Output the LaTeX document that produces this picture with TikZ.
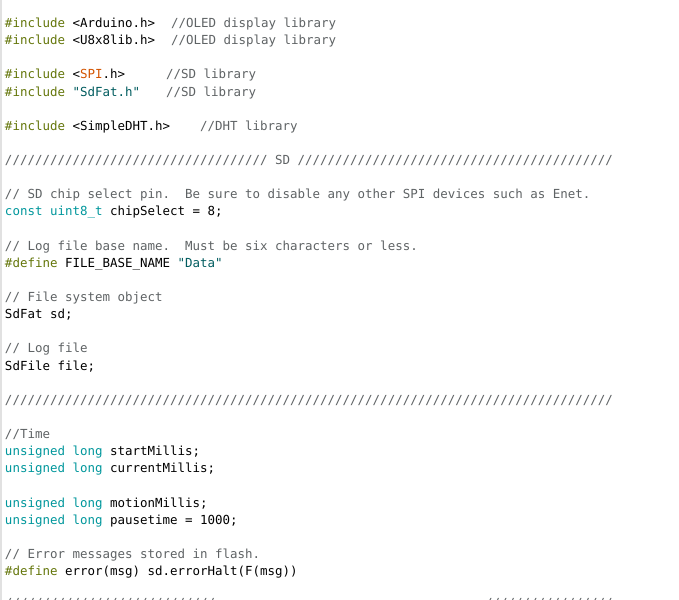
\documentclass[tikz,border=0pt]{standalone}
\usepackage{fontspec}
\setmonofont{DejaVu Sans Mono}
\frenchspacing

\definecolor{prepgreen}{RGB}{100,118,10}
\definecolor{typeteal}{RGB}{0,151,156}
\definecolor{strteal}{RGB}{0,92,95}
\definecolor{libred}{RGB}{211,84,0}
\definecolor{cmtgray}{RGB}{95,99,101}
\definecolor{edgegray}{RGB}{225,225,225}

\newcommand\slashrow[1]{\foreach \s in {1,...,#1}{/}}

\begin{document}
\begin{tikzpicture}[x=0.75pt, y=-0.75pt,
  code/.style={anchor=base west, inner sep=0pt, outer sep=0pt,
    font=\ttfamily\fontsize{9.35}{11}\selectfont, text=black},
  cmt/.style={code, text=cmtgray}]
\useasboundingbox[fill=white] (0,0) rectangle (679,600);
\draw[edgegray, line width=1.5pt] (1,0) -- (1,600);

% includes
\node[code] (ln0) at (5,27.5) {\textcolor{prepgreen}{\#include} <Arduino.h>};
\node[cmt] (ln0c) at (171,27.5) {//OLED display library};
\node[code] (ln1) at (5,44.6) {\textcolor{prepgreen}{\#include} <U8x8lib.h>};
\node[cmt] (ln1c) at (171,44.6) {//OLED display library};
\node[code] (ln3) at (5,78.9) {\textcolor{prepgreen}{\#include} <\textcolor{libred}{SPI}.h>};
\node[cmt] (ln3c) at (166,78.9) {//SD library};
\node[code] (ln4) at (5,96.1) {\textcolor{prepgreen}{\#include} \textcolor{strteal}{"SdFat.h"}};
\node[cmt] (ln4c) at (166,96.1) {//SD library};
\node[code] (ln6) at (5,130.25) {\textcolor{prepgreen}{\#include} <SimpleDHT.h>};
\node[cmt] (ln6c) at (200,130.25) {//DHT library};

% SD block
\node[cmt] (ln8) at (5,164.5) {\slashrow{35} SD \slashrow{42}};
\node[cmt] (ln10) at (5,198.75) {// SD chip select pin.\ \ Be sure to disable any other SPI devices such as Enet.};
\node[code] (ln11) at (5,215.9) {\textcolor{typeteal}{const uint8\_t} chipSelect = 8;};
\node[cmt] (ln13) at (5,250.1) {// Log file base name.\ \ Must be six characters or less.};
\node[code] (ln14) at (5,267.25) {\textcolor{prepgreen}{\#define} FILE\_BASE\_NAME \textcolor{strteal}{"Data"}};
\node[cmt] (ln16) at (5,301.5) {// File system object};
\node[code] (ln17) at (5,318.6) {SdFat sd;};
\node[cmt] (ln19) at (5,352.9) {// Log file};
\node[code] (ln20) at (5,370) {SdFile file;};
\node[cmt] (ln22) at (5,404.25) {\slashrow{81}};

% time
\node[cmt] (ln24) at (5,438.5) {//Time};
\node[code] (ln25) at (5,455.6) {\textcolor{typeteal}{unsigned long} startMillis;};
\node[code] (ln26) at (5,472.75) {\textcolor{typeteal}{unsigned long} currentMillis;};
\node[code] (ln28) at (5,507) {\textcolor{typeteal}{unsigned long} motionMillis;};
\node[code] (ln29) at (5,524.1) {\textcolor{typeteal}{unsigned long} pausetime = 1000;};
\node[cmt] (ln31) at (5,558.4) {// Error messages stored in flash.};
\node[code] (ln32) at (5,575.5) {\textcolor{prepgreen}{\#define} error(msg) sd.errorHalt(F(msg))};

% cut-off row at the bottom edge
\begin{scope}
\clip (0,0) rectangle (679,600);
\node[cmt] (ln34a) at (5,607) {\slashrow{28}};
\node[cmt] (ln34b) at (485,607) {\slashrow{17}};
\end{scope}
\end{tikzpicture}
\end{document}
